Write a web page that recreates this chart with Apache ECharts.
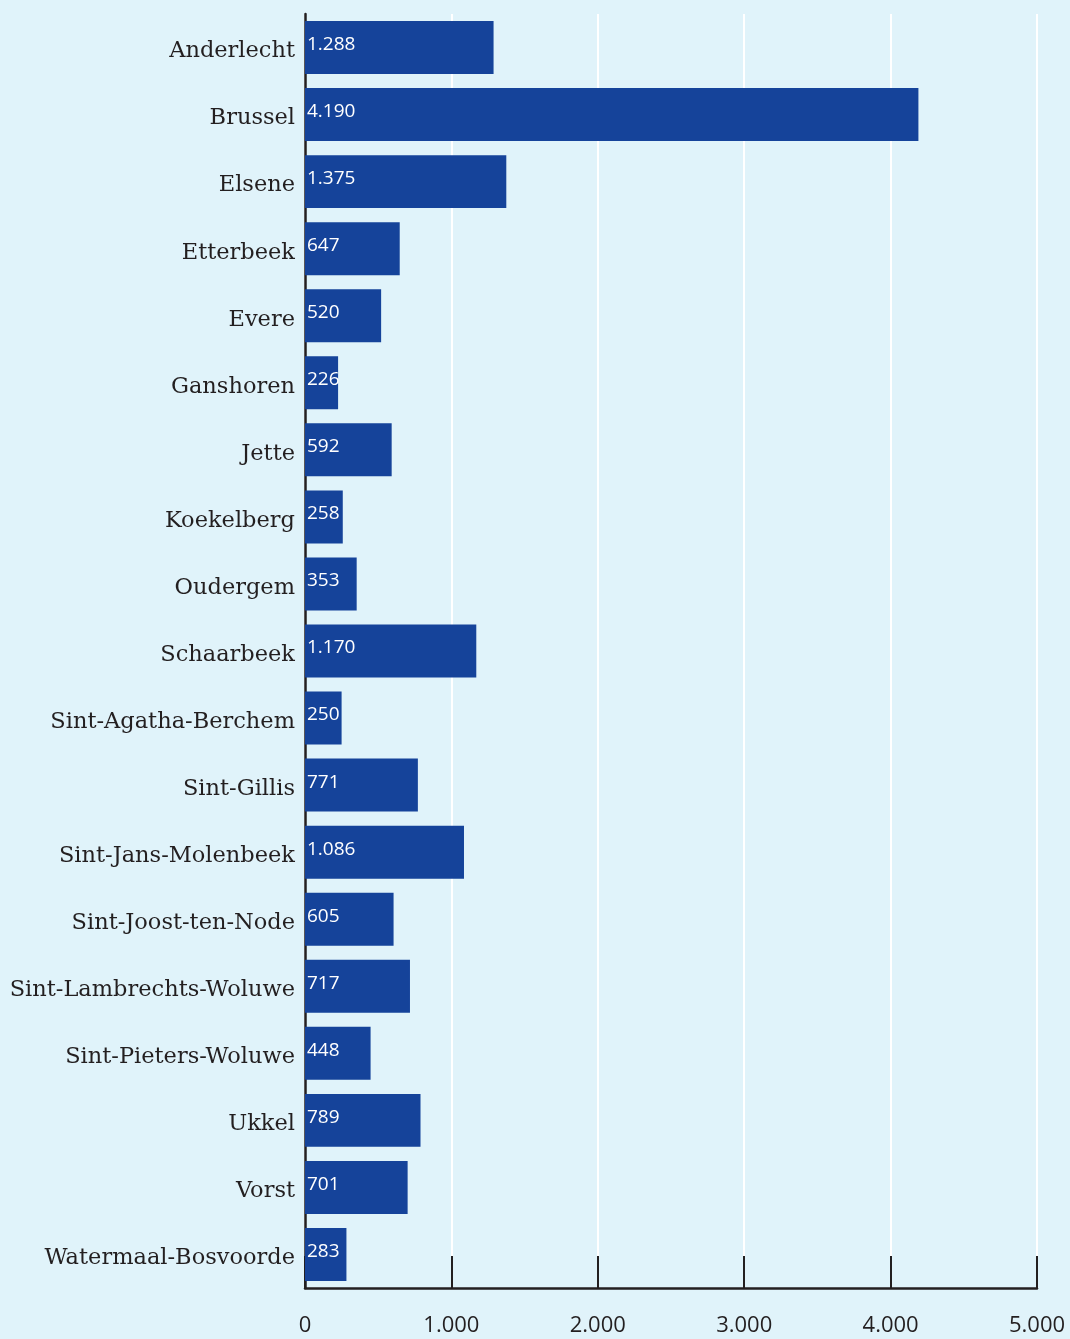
<!DOCTYPE html>
<html><head><meta charset="utf-8">
<script src="https://cdn.jsdelivr.net/npm/echarts@6/dist/echarts.min.js"></script>
<style>html,body{margin:0;padding:0;background:#e0f3fa;}#c{width:1070px;height:1339px;}</style>
</head><body><div id="c"></div>
<script>
const categories = ["Anderlecht","Brussel","Elsene","Etterbeek","Evere","Ganshoren","Jette","Koekelberg","Oudergem","Schaarbeek","Sint-Agatha-Berchem","Sint-Gillis","Sint-Jans-Molenbeek","Sint-Joost-ten-Node","Sint-Lambrechts-Woluwe","Sint-Pieters-Woluwe","Ukkel","Vorst","Watermaal-Bosvoorde"];
const values = [1288,4190,1375,647,520,226,592,258,353,1170,250,771,1086,605,717,448,789,701,283];
const xTicks = [0,1000,2000,3000,4000,5000];
const fmt = v => String(v).replace(/\B(?=(\d{3})+(?!\d))/g, '.');
const chart = echarts.init(document.getElementById('c'));
chart.setOption({
  backgroundColor: '#e0f3fa',
  animation: false,
  grid: {left: 305, right: 33, top: 14, bottom: 51, containLabel: false},
  xAxis: {
    type: 'value', min: xTicks[0], max: xTicks[xTicks.length - 1], interval: xTicks[1] - xTicks[0],
    axisLine: {show: true, lineStyle: {color: '#231f20', width: 2.5}},
    axisTick: {show: true, inside: true, length: 32, lineStyle: {color: '#231f20', width: 2}},
    splitLine: {show: true, lineStyle: {color: '#ffffff', width: 2}},
    axisLabel: {margin: 27, fontSize: 22, color: '#231f20', fontFamily: 'Open Sans, sans-serif', formatter: fmt, showMaxLabel: true}
  },
  yAxis: {
    type: 'category', data: categories, inverse: true,
    axisLine: {show: true, lineStyle: {color: '#231f20', width: 2.5}},
    axisTick: {show: false},
    axisLabel: {margin: 10, fontSize: 22.5, color: '#231f20', fontFamily: 'DejaVu Serif, serif', verticalAlign: 'top', lineHeight: 8}
  },
  series: [{
    type: 'bar', data: values, barCategoryGap: '21%',
    itemStyle: {color: '#15439a'},
    label: {show: true, position: 'insideLeft', distance: 2, offset: [0, -3], color: '#ffffff', fontSize: 19, fontFamily: 'Open Sans, sans-serif', formatter: p => fmt(p.value)}
  }]
});
</script></body></html>
